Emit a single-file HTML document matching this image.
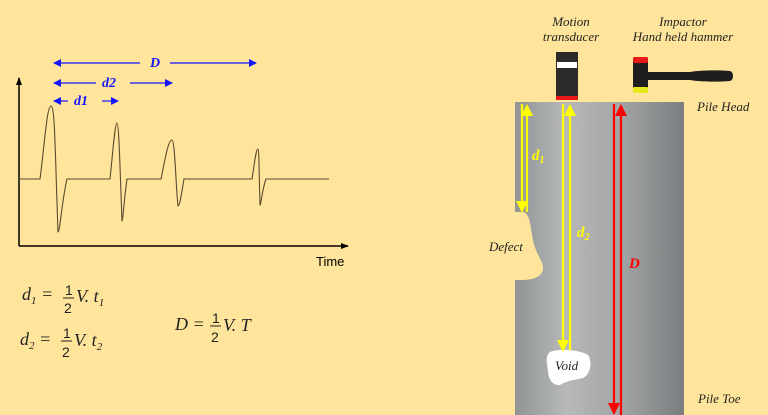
<!DOCTYPE html>
<html><head><meta charset="utf-8"><style>
html,body{margin:0;padding:0;background:#FFE59B;}
svg{display:block}
.it{font-family:"Liberation Serif",serif;font-style:italic;}
</style></head><body>
<svg width="768" height="415" viewBox="0 0 768 415" xmlns="http://www.w3.org/2000/svg">
<defs>
<linearGradient id="pg" x1="0" x2="1" y1="0" y2="0">
<stop offset="0" stop-color="#919495"/><stop offset="0.3" stop-color="#b6b8b9"/><stop offset="0.6" stop-color="#a5a7a8"/><stop offset="1" stop-color="#7a7d7f"/>
</linearGradient>
<marker id="ab" markerWidth="8" markerHeight="8" refX="7" refY="4" orient="auto" markerUnits="userSpaceOnUse"><path d="M0,0 L8,4 L0,8z" fill="#1515ff"/></marker>
<marker id="ak" markerWidth="8" markerHeight="8" refX="7" refY="4" orient="auto" markerUnits="userSpaceOnUse"><path d="M0,1 L8,4 L0,7z" fill="#000"/></marker>
<marker id="ay" markerWidth="12" markerHeight="12" refX="10" refY="6" orient="auto" markerUnits="userSpaceOnUse"><path d="M0,0 L12,6 L0,12z" fill="#ffff00"/></marker>
<marker id="ar" markerWidth="12" markerHeight="12" refX="10" refY="6" orient="auto" markerUnits="userSpaceOnUse"><path d="M0,0 L12,6 L0,12z" fill="#ff0000"/></marker>
</defs>
<rect width="768" height="415" fill="#FFE59B"/>
<line x1="19" y1="246" x2="19" y2="78" stroke="#000" stroke-width="1.5" marker-end="url(#ak)"/>
<line x1="19" y1="246" x2="348" y2="246" stroke="#000" stroke-width="1.5" marker-end="url(#ak)"/>
<text x="316" y="266" font-family="Liberation Sans,sans-serif" font-size="13">Time</text>
<path d="M19,179 L40,179 C45,140 47,106 51,106 C55,106 55,150 58,232 C60,232 62,200 67,179 L110,179 C113,150 115,123 117,123 C119,123 120,170 122,221 C123,221 124,200 127,179 L161,179 C165,160 168,140 172,140 C175,140 176,190 178,206 C180,206 182,190 184,179 L252,179 C255,160 256,149 258,149 C259,149 259,170 260,205 C261,205 262,190 266,179 L329,179" fill="none" stroke="#5a4a30" stroke-width="1.1"/>
<g stroke="#1515ff" stroke-width="1.2" fill="none">
<line x1="140" y1="63" x2="54" y2="63" marker-end="url(#ab)"/><line x1="170" y1="63" x2="256" y2="63" marker-end="url(#ab)"/>
<line x1="96" y1="83" x2="54" y2="83" marker-end="url(#ab)"/><line x1="130" y1="83" x2="172" y2="83" marker-end="url(#ab)"/>
<line x1="68" y1="101" x2="54" y2="101" marker-end="url(#ab)"/><line x1="102" y1="101" x2="118" y2="101" marker-end="url(#ab)"/>
</g>
<g class="it" fill="#1515ff" font-weight="bold" font-size="14">
<text x="150" y="67">D</text><text x="102" y="87">d2</text><text x="74" y="105">d1</text>
</g>
<g class="it" font-size="18" fill="#222">
<text x="22" y="300">d<tspan font-size="11" dy="4">1</tspan><tspan dy="-4"> =</tspan></text>
<text x="65" y="295" font-style="normal" font-size="14" font-family="Liberation Sans,sans-serif">1</text>
<line x1="63" y1="298" x2="74" y2="298" stroke="#222"/>
<text x="64" y="313" font-style="normal" font-size="14" font-family="Liberation Sans,sans-serif">2</text>
<text x="76" y="302">V. t<tspan font-size="11" dy="4">1</tspan></text>
<text x="20" y="345">d<tspan font-size="11" dy="4">2</tspan><tspan dy="-4"> =</tspan></text>
<text x="63" y="338" font-style="normal" font-size="14" font-family="Liberation Sans,sans-serif">1</text>
<line x1="61" y1="341" x2="72" y2="341" stroke="#222"/>
<text x="62" y="357" font-style="normal" font-size="14" font-family="Liberation Sans,sans-serif">2</text>
<text x="74" y="346">V. t<tspan font-size="11" dy="4">2</tspan></text>
<text x="175" y="330">D =</text>
<text x="212" y="323" font-style="normal" font-size="14" font-family="Liberation Sans,sans-serif">1</text>
<line x1="210" y1="326" x2="221" y2="326" stroke="#222"/>
<text x="211" y="342" font-style="normal" font-size="14" font-family="Liberation Sans,sans-serif">2</text>
<text x="223" y="331">V. T</text>
</g>
<rect x="515" y="102" width="169" height="313" fill="url(#pg)"/>
<path d="M515,212 L522,212 C530,212 530,225 533,240 C536,255 543,260 543,268 C543,278 530,280 522,280 L515,280 Z" fill="#FFE59B"/>
<path d="M550,352 C560,348 580,350 588,355 C593,362 590,375 583,378 C575,380 568,380 560,385 C552,386 548,378 548,370 C546,360 546,356 550,352 Z" fill="#fff"/>
<text x="555" y="370" class="it" font-size="13" fill="#222">Void</text>
<g stroke-width="2.2">
<line x1="522" y1="104" x2="522" y2="211" stroke="#ffff00" marker-end="url(#ay)"/>
<line x1="527" y1="212" x2="527" y2="106" stroke="#ffff00" marker-end="url(#ay)"/>
<line x1="563" y1="104" x2="563" y2="350" stroke="#ffff00" marker-end="url(#ay)"/>
<line x1="570" y1="350" x2="570" y2="106" stroke="#ffff00" marker-end="url(#ay)"/>
<line x1="614" y1="104" x2="614" y2="413" stroke="#ff0000" marker-end="url(#ar)"/>
<line x1="621" y1="415" x2="621" y2="106" stroke="#ff0000" marker-end="url(#ar)"/>
</g>
<g class="it" font-weight="bold" font-size="15">
<text x="532" y="160" fill="#ffff00">d<tspan font-size="10" dy="3">1</tspan></text>
<text x="577" y="237" fill="#ffff00">d<tspan font-size="10" dy="3">2</tspan></text>
<text x="629" y="268" fill="#ff0000">D</text>
</g>
<rect x="556" y="52" width="22" height="46" fill="#2b2b2b"/>
<rect x="557" y="62" width="20" height="6" fill="#fff"/>
<rect x="556" y="96" width="22" height="4" fill="#e81818"/>
<path d="M648,72 L690,72 C700,70 720,70 730,71 C734,72 734,80 730,81 C720,82 700,82 690,80 L648,80 Z" fill="#1e1e1e"/>
<rect x="633" y="57" width="15" height="36" rx="2" fill="#1e1e1e"/>
<rect x="633" y="57" width="15" height="6" rx="2" fill="#e81818"/>
<rect x="633" y="87" width="15" height="6" rx="1" fill="#e8e820"/>
<g class="it" font-size="13" fill="#222">
<text x="571" y="26" text-anchor="middle">Motion</text>
<text x="571" y="41" text-anchor="middle">transducer</text>
<text x="683" y="26" text-anchor="middle">Impactor</text>
<text x="683" y="41" text-anchor="middle">Hand held hammer</text>
<text x="697" y="111">Pile Head</text>
<text x="489" y="251">Defect</text>
<text x="698" y="403">Pile Toe</text>
</g>
</svg>
</body></html>
